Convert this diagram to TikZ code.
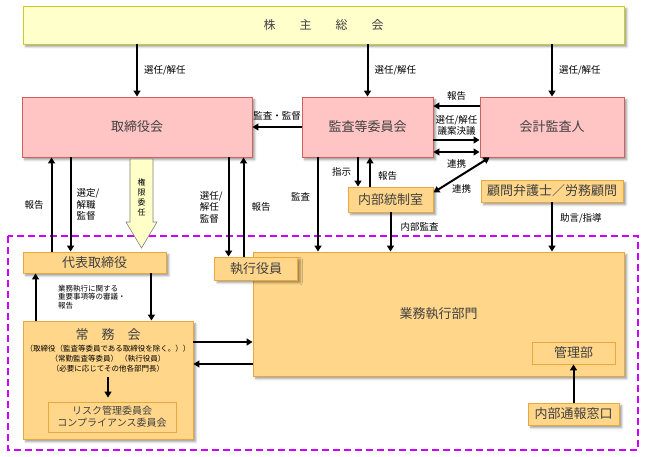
\documentclass[tikz,border=0pt]{standalone}
\usepackage{fontspec}
\setmainfont{Noto Sans CJK JP}
\usetikzlibrary{arrows.meta, calc, positioning, shadows, shadows.blur}

\definecolor{gmfill}{RGB}{255,255,204}
\definecolor{gmline}{RGB}{204,204,40}
\definecolor{pinkfill}{RGB}{255,196,196}
\definecolor{pinkline}{RGB}{208,96,96}
\definecolor{orfill}{RGB}{255,214,138}
\definecolor{orline}{RGB}{232,168,64}
\definecolor{framecol}{RGB}{204,0,255}
\definecolor{boxtext}{RGB}{64,64,64}
\definecolor{delegfill}{RGB}{255,255,200}

\tikzset{
  boxbase/.style={rectangle, line width=0.9pt, inner sep=1pt, text=boxtext,
    font=\fontsize{13}{15}\selectfont},
  shadowed/.style={blur shadow={shadow blur steps=5}},
  gmbox/.style={boxbase, shadowed, draw=gmline, fill=gmfill},
  pinkbox/.style={boxbase, shadowed, draw=pinkline, fill=pinkfill},
  orbox/.style={boxbase, shadowed, draw=orline, fill=orfill},
  inbox/.style={boxbase, draw=orline, fill=orfill},
  arr/.style={-{Triangle[length=6pt,width=7pt]}, line width=2pt},
  dblarr/.style={{Triangle[length=6pt,width=7pt]}-{Triangle[length=6pt,width=7pt]}, line width=2pt},
  lbl/.style={font=\fontsize{9.5}{11.5}\selectfont, text=black, inner sep=1pt}
}

\begin{document}
\begin{tikzpicture}[x=1pt, y=-1pt]
  \useasboundingbox (0,0) rectangle (648,457);
  % shareholders meeting
  \node[gmbox, minimum width=601pt, minimum height=38pt, font=\fontsize{12}{14}\selectfont] (gm) at (323.5,25) {株\qquad 主\qquad 総\qquad 会};
  % boards and auditor
  \node[pinkbox, minimum width=230pt, minimum height=60pt] (bod) at (137,127) {取締役会};
  \node[pinkbox, minimum width=131pt, minimum height=60pt] (ac) at (367.5,127) {監査等委員会};
  \node[pinkbox, minimum width=144pt, minimum height=60pt] (aud) at (552,127) {会計監査人};
  \node[orbox, minimum width=85pt, minimum height=25pt] (ia) at (390.5,199.5) {内部統制室};
  \node[orbox, minimum width=142pt, minimum height=22pt] (adv) at (552,191) {顧問弁護士／労務顧問};
  % execution area (dashed frame)
  \draw[framecol, line width=1.3pt, dash pattern=on 7pt off 4pt] (8,236) rectangle (638,450);
  \node[orbox, minimum width=371pt, minimum height=124pt] (biz) at (438.5,314) {業務執行部門};
  \node[inbox, minimum width=83pt, minimum height=22pt] (mgmt) at (573.5,353) {管理部};
  \node[orbox, minimum width=91pt, minimum height=22pt] (hot) at (573.5,414) {内部通報窓口};
  \node[orbox, minimum width=83pt, minimum height=23pt] (exo) at (256,268.5) {執行役員};
  \node[orbox, minimum width=143pt, minimum height=21pt] (rep) at (94.5,262.5) {代表取締役};
  \node[orbox, minimum width=170pt, minimum height=118pt] (mc) at (108,380) {};
  \node[text=boxtext, font=\fontsize{13}{15}\selectfont] (mctitle) at (108,335) {常\quad 務\quad 会};
  \node[font=\fontsize{7.5}{10}\selectfont, align=center, inner sep=1pt] (mcsub) at (108,359)
    {（取締役（監査等委員である取締役を除く。））\\（常勤監査等委員）\;（執行役員）\\（必要に応じてその他各部門長）};
  \node[inbox, minimum width=128pt, minimum height=30pt, align=center, font=\fontsize{10}{12}\selectfont] (risk) at (112,417)
    {リスク管理委員会\\コンプライアンス委員会};
  % delegation block arrow
  \draw[draw=black!50, fill=delegfill, line width=0.6pt] (130,159) -- (153,159) -- (153,222) -- (157,222)
    -- (141.5,248) -- (126,222) -- (130,222) -- cycle;
  \node[font=\fontsize{8}{10}\selectfont, align=center, inner sep=0pt] (deleg) at (141.5,197) {権\\限\\委\\任};
  % appointments by shareholders
  \foreach \n in {bod, ac, aud}{
    \draw[arr] (gm.south -| \n.north) -- (\n.north) node[lbl, midway, right=5pt] {選任/解任};}
  % audit committee and auditor
  \draw[arr] (ac.west) -- (bod.east) node[lbl, midway, above=5pt] {監査・監督};
  \draw[arr] ([yshift=21pt]aud.west) -- ([yshift=21pt]ac.east) node[lbl, midway, above=4pt] {報告};
  \draw[arr] ([yshift=-13pt]ac.east) -- ([yshift=-13pt]aud.west)
    node[lbl, midway, above=3pt, align=center, font=\fontsize{9.5}{11}\selectfont] {選任/解任\\議案決議};
  \draw[dblarr] ([yshift=-25pt]ac.east) -- ([yshift=-25pt]aud.west) node[lbl, midway, below=6pt] {連携};
  \draw[dblarr] ([xshift=10pt]aud.south west) -- ([yshift=7pt]ia.east) node[lbl, midway, below=8pt] {連携};
  \draw[arr] ([xshift=-32.5pt]ia.north |- ac.south) -- ([xshift=-32.5pt]ia.north) node[lbl, midway, left=5pt] {指示};
  \draw[arr] ([xshift=-20.5pt]ia.north) -- ([xshift=-20.5pt]ia.north |- ac.south) node[lbl, midway, right=6pt, yshift=-4pt] {報告};
  \draw[arr] ([xshift=-49.5pt]ac.south) -- ([xshift=-49.5pt]ac.south |- biz.north) node[lbl, pos=0.42, left=6pt] {監査};
  \draw[arr] (ia.south) -- (ia.south |- biz.north) node[lbl, pos=0.38, right=8pt] {内部監査};
  \draw[arr] (adv.south) -- (adv.south |- biz.north) node[lbl, pos=0.32, right=6pt] {助言/指導};
  % board and executives
  \draw[arr] ([xshift=29pt]rep.north west) -- ([xshift=29pt]rep.north west |- bod.south) node[lbl, midway, left=6pt] {報告};
  \draw[arr] ([xshift=48pt]rep.north west |- bod.south) -- ([xshift=48pt]rep.north west)
    node[lbl, midway, right=4pt, align=left] {選定/\\解職\\監督};
  \draw[arr] ([xshift=14.5pt]exo.north west |- bod.south) -- ([xshift=14.5pt]exo.north west)
    node[lbl, midway, left=4pt, align=left] {選任/\\解任\\監督};
  \draw[arr] ([xshift=29.5pt]exo.north west) -- ([xshift=29.5pt]exo.north west |- bod.south) node[lbl, midway, right=6pt] {報告};
  % representative director and management committee
  \draw[arr] ([xshift=-15pt]rep.south east) -- ([xshift=-15pt]rep.south east |- mc.north);
  \draw[arr] ([xshift=13pt]mc.north west) -- ([xshift=13pt]mc.north west |- rep.south);
  \node[font=\fontsize{7.5}{8.5}\selectfont, align=left, anchor=west, inner sep=0pt] (note) at (58,297)
    {業務執行に関する\\重要事項等の審議・\\報告};
  \draw[arr] ([yshift=38pt]mc.east) -- ([yshift=38pt]mc.east -| biz.west);
  \draw[arr] ([yshift=16pt]mc.east -| biz.west) -- ([yshift=16pt]mc.east);
  \draw[arr, shorten <=3pt, shorten >=4pt] (mcsub.south) -- (mcsub.south |- risk.north);
  \draw[arr] (hot.north) -- (mgmt.south);
\end{tikzpicture}
\end{document}
